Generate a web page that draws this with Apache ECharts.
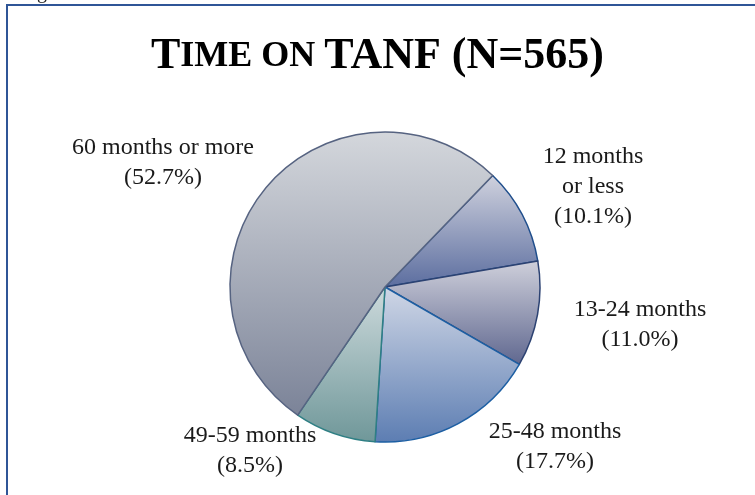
<!DOCTYPE html>
<html>
<head>
<meta charset="utf-8">
<title>Time on TANF</title>
<script src="https://cdn.jsdelivr.net/npm/echarts@6/dist/echarts.min.js"></script>
<style>
  html, body { margin: 0; padding: 0; background: #fff; }
  #chart { width: 755px; height: 495px; }
</style>
</head>
<body>
<div id="chart"></div>
<script>
// data (clockwise from the upper right)
const categories = ['12 months\nor less', '13-24 months', '25-48 months', '49-59 months', '60 months or more'];
const shares = [10.1, 11.0, 17.7, 8.5, 52.7];

// slice look: gradient top / bottom and edge colour
const topColors = ['#d0d2de', '#cfd0db', '#d0d7e6', '#cddadc', '#d4d7dc'];
const bottomColors = ['#5b6d9f', '#5f678f', '#5c7db2', '#6f9799', '#7b8398'];
const edgeColors = ['#1f4e8c', '#2c4272', '#1d5fa3', '#2f7f84', '#566381'];

// where each label block is centred
const labelPos = [[593, 187], [640, 325], [555, 447], [250, 451], [163, 163]];

const serif = '"Liberation Serif", "Times New Roman", serif';

const chart = echarts.init(document.getElementById('chart'));

const option = {
    animation: false,
    title: {
        text: '{a|T}{b|IME ON }{a|TANF (N=565)}',
        left: 'center',
        top: 30,
        textStyle: {
            rich: {
                a: { fontFamily: serif, fontWeight: 'bold', fontSize: 44, color: '#000' },
                b: { fontFamily: serif, fontWeight: 'bold', fontSize: 36, color: '#000' },
            },
        },
    },
    graphic: [
        {
            type: 'rect',
            shape: { x: 7, y: 5, width: 800, height: 600 },
            style: { fill: 'none', stroke: '#2f5597', lineWidth: 2 },
        },
        {
            type: 'text',
            left: 37,
            top: -17,
            style: { text: 'g', font: '20px ' + serif, fill: '#222' },
        },
    ],
    series: [
        {
            type: 'pie',
            center: [385, 287],
            radius: 155,
            startAngle: 46,
            clockwise: true,
            avoidLabelOverlap: false,
            label: {
                show: true,
                position: 'outside',
                fontFamily: serif,
                fontSize: 24,
                lineHeight: 30,
                color: '#1a1a1a',
                align: 'center',
                formatter: (p) => `${p.name}\n(${p.value.toFixed(1)}%)`,
            },
            labelLine: { show: false },
            labelLayout: (params) => {
                const pos = labelPos[params.dataIndex];
                return { x: pos[0], y: pos[1], align: 'center', verticalAlign: 'middle' };
            },
            emphasis: { disabled: true },
            data: categories.map((name, i) => ({
                name,
                value: shares[i],
                itemStyle: {
                    color: new echarts.graphic.LinearGradient(0, 0, 0, 1, [
                        { offset: 0, color: topColors[i] },
                        { offset: 1, color: bottomColors[i] },
                    ]),
                    borderColor: edgeColors[i],
                    borderWidth: 1.5,
                },
            })),
        },
    ],
};

chart.setOption(option);
</script>
</body>
</html>
